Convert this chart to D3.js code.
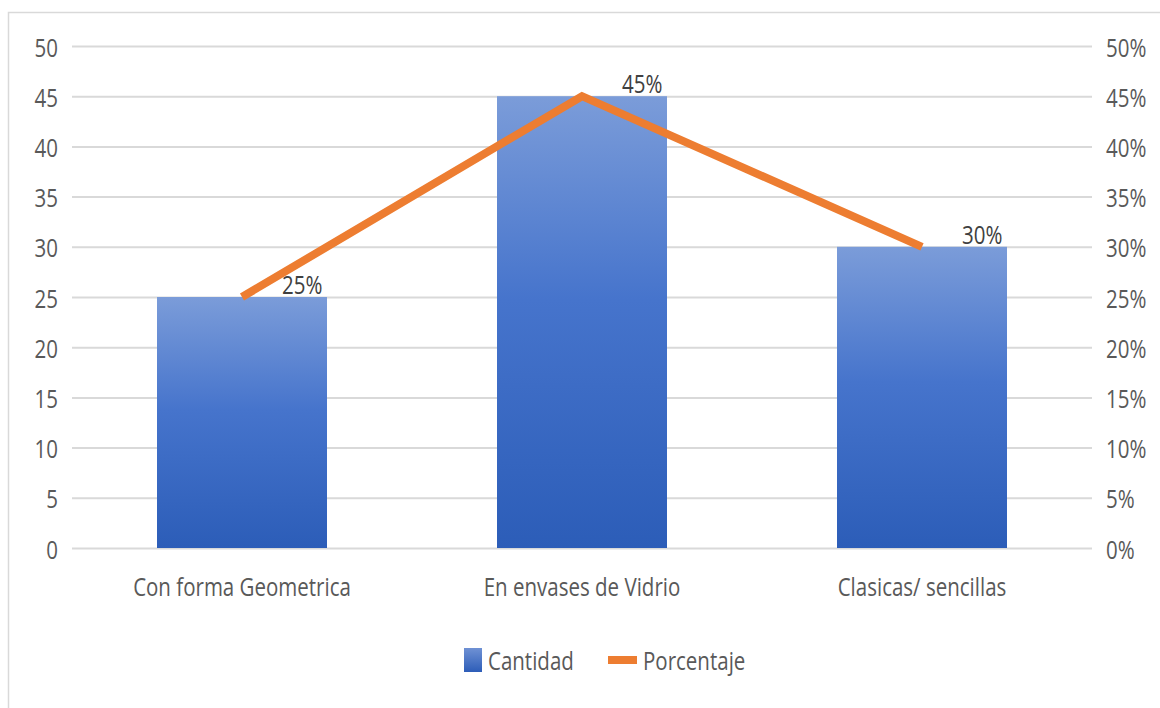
<!DOCTYPE html>
<html>
<head>
<meta charset="utf-8">
<script src="https://cdn.jsdelivr.net/npm/d3@7/dist/d3.min.js"></script>
<style>
  html, body { margin: 0; padding: 0; background: #ffffff; }
  svg { display: block; }
  text { font-family: "Open Sans", "Noto Sans", sans-serif; }
</style>
</head>
<body>
<svg id="chart" width="1160" height="708"></svg>
<script>
// Categories and series
const categories = ["Con forma Geometrica", "En envases de Vidrio", "Clasicas/ sencillas"];
const cantidad = [25, 45, 30];
const porcentaje = [0.25, 0.45, 0.30];

// Axis ticks
const leftTicks = [0, 5, 10, 15, 20, 25, 30, 35, 40, 45, 50];
const rightTicks = [0, 0.05, 0.10, 0.15, 0.20, 0.25, 0.30, 0.35, 0.40, 0.45, 0.50];

// Legend entries
const legendLabels = ["Cantidad", "Porcentaje"];

const W = 1160, H = 708;
const plot = { left: 72, right: 1092, top: 46, bottom: 548 };
const FONT = 25;
const SQUEEZE = 0.82;          // narrow lettering
const TICK_COLOR = "#595959";
const LABEL_COLOR = "#404040";
const ORANGE = "#ed7d31";
const GRID = "#d9d9d9";

const svg = d3.select("#chart");

// narrow a text element horizontally around its anchor x
function squeeze(sel) {
  sel.each(function () {
    const t = d3.select(this);
    const x = +t.attr("x") || 0;
    t.attr("transform", `translate(${x},0) scale(${SQUEEZE},1) translate(${-x},0)`);
  });
}

// chart frame
svg.append("rect")
  .attr("x", 8.5).attr("y", 12.5)
  .attr("width", W).attr("height", H)
  .attr("fill", "#ffffff")
  .attr("stroke", GRID).attr("stroke-width", 1.5);

const defs = svg.append("defs");
const grad = defs.append("linearGradient")
  .attr("id", "barFill").attr("x1", 0).attr("y1", 0).attr("x2", 0).attr("y2", 1);
grad.append("stop").attr("offset", "0%").attr("stop-color", "#7b9cd9");
grad.append("stop").attr("offset", "45%").attr("stop-color", "#4674cc");
grad.append("stop").attr("offset", "100%").attr("stop-color", "#2c5db8");

const legendGrad = defs.append("linearGradient")
  .attr("id", "legendFill").attr("x1", 0).attr("y1", 0).attr("x2", 0).attr("y2", 1);
legendGrad.append("stop").attr("offset", "0%").attr("stop-color", "#6f91d4");
legendGrad.append("stop").attr("offset", "100%").attr("stop-color", "#2d5db8");

// scales
const x = d3.scaleBand()
  .domain(categories)
  .range([plot.left, plot.right])
  .paddingInner(0.5)
  .paddingOuter(0.25);

const y = d3.scaleLinear().domain([0, 50]).range([plot.bottom, plot.top]);
const yPct = d3.scaleLinear().domain([0, 0.5]).range([plot.bottom, plot.top]);

// gridlines
const grid = svg.append("g")
  .attr("transform", `translate(${plot.left},0)`)
  .call(d3.axisLeft(y).tickValues(leftTicks).tickSize(-(plot.right - plot.left)).tickFormat(""));
grid.select(".domain").remove();
grid.selectAll("line").attr("stroke", GRID).attr("stroke-width", 2);

// left axis labels
const yAxisL = svg.append("g")
  .attr("transform", `translate(${plot.left},0)`)
  .call(d3.axisLeft(y).tickValues(leftTicks).tickSize(0).tickPadding(14));
yAxisL.select(".domain").remove();
yAxisL.selectAll("text")
  .attr("font-size", FONT).attr("fill", TICK_COLOR).attr("dy", "0.4em")
  .style("font-family", "'Open Sans', sans-serif")
  .call(squeeze);

// right axis labels
const yAxisR = svg.append("g")
  .attr("transform", `translate(${plot.right},0)`)
  .call(d3.axisRight(yPct).tickValues(rightTicks).tickSize(0).tickPadding(14).tickFormat(d3.format(".0%")));
yAxisR.select(".domain").remove();
yAxisR.selectAll("text")
  .attr("font-size", FONT).attr("fill", TICK_COLOR).attr("dy", "0.4em")
  .style("font-family", "'Open Sans', sans-serif")
  .call(squeeze);

// bars
svg.append("g").selectAll("rect")
  .data(categories)
  .join("rect")
  .attr("x", d => x(d))
  .attr("width", x.bandwidth())
  .attr("y", (d, i) => y(cantidad[i]))
  .attr("height", (d, i) => y(0) - y(cantidad[i]))
  .attr("fill", "url(#barFill)");

// category labels
const xAxis = svg.append("g")
  .attr("transform", `translate(0,${plot.bottom})`)
  .call(d3.axisBottom(x).tickSize(0).tickPadding(30));
xAxis.select(".domain").remove();
xAxis.selectAll("text")
  .attr("font-size", FONT).attr("fill", TICK_COLOR)
  .style("font-family", "'Open Sans', sans-serif")
  .call(squeeze);

// percentage line
const pts = categories.map((c, i) => [x(c) + x.bandwidth() / 2, yPct(porcentaje[i])]);
svg.append("path")
  .attr("d", d3.line()(pts))
  .attr("fill", "none")
  .attr("stroke", ORANGE)
  .attr("stroke-width", 8)
  .attr("stroke-linejoin", "miter")
  .attr("stroke-linecap", "butt");

// value labels for the line
svg.append("g").selectAll("text")
  .data(pts)
  .join("text")
  .attr("x", d => d[0] + 40)
  .attr("y", d => d[1] - 12)
  .attr("dy", "0.35em")
  .attr("font-size", FONT)
  .attr("fill", LABEL_COLOR)
  .text((d, i) => d3.format(".0%")(porcentaje[i]))
  .call(squeeze);

// legend
const legend = svg.append("g").attr("transform", "translate(0,660)");
legend.append("rect")
  .attr("x", 464).attr("y", -12).attr("width", 18).attr("height", 24)
  .attr("fill", "url(#legendFill)");
legend.append("text")
  .attr("x", 488).attr("y", 0).attr("dy", "0.38em")
  .attr("font-size", FONT).attr("fill", TICK_COLOR)
  .text(legendLabels[0]).call(squeeze);
legend.append("line")
  .attr("x1", 608).attr("x2", 637).attr("y1", 0).attr("y2", 0)
  .attr("stroke", ORANGE).attr("stroke-width", 8);
legend.append("text")
  .attr("x", 643).attr("y", 0).attr("dy", "0.38em")
  .attr("font-size", FONT).attr("fill", TICK_COLOR)
  .text(legendLabels[1]).call(squeeze);
</script>
</body>
</html>
